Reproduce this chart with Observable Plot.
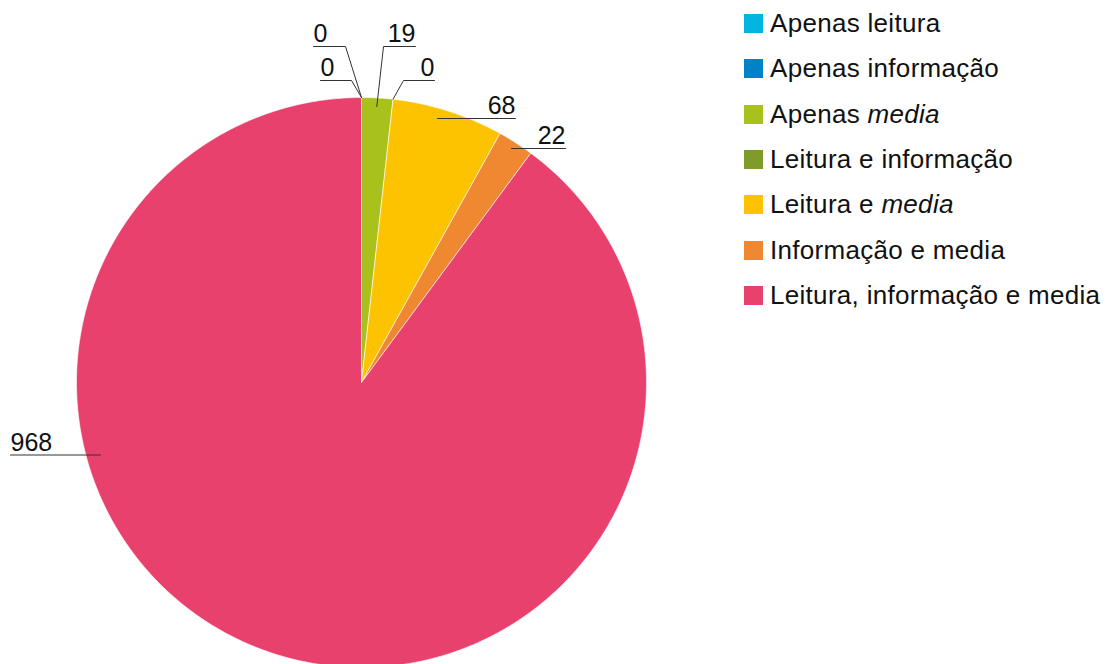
<!DOCTYPE html>
<html><head><meta charset="utf-8">
<script src="https://cdn.jsdelivr.net/npm/d3@7"></script>
<script src="https://cdn.jsdelivr.net/npm/@observablehq/plot@0.6"></script>
<style>
body{margin:0;background:#fff;font-family:"Liberation Sans",Arial,Helvetica,sans-serif;}
#wrap{position:relative;width:1113px;height:664px;overflow:hidden;}
#legend{position:absolute;left:744px;top:0;}
.row{position:absolute;left:0;display:flex;align-items:center;height:19px;white-space:nowrap;}
.sw{width:19px;height:19px;flex:none;}
.lab{margin-left:7px;font-size:26px;line-height:19px;color:#111;letter-spacing:0.3px;}
</style></head><body><div id="wrap"><div id="chart"></div><div id="legend"></div></div>
<script>
// ---- data ----
const categories = ["Apenas leitura","Apenas informação","Apenas media","Leitura e informação","Leitura e media","Informação e media","Leitura, informação e media"];
const values = [0, 0, 19, 0, 68, 22, 968];
const valueLabels = ["0","0","19","0","68","22","968"];
const colors = ["#00b5e2","#0082c8","#a9c11c","#7e9b2b","#fdc300","#ef8831","#e8416d"];
const legendItalic = [false, false, true, false, true, false, false];

// ---- layout (pixels relative to pie centre) ----
const W = 1113, H = 664, CX = 361, CY = 382, R = 285;
const labelLayout = [
  {align:"start", dy:-336, textX:-48,  elbowX:-16,  anchorR:1},
  {align:"start", dy:-302, textX:-41,  elbowX:-10,  anchorR:1},
  {align:"end",   dy:-336, textX:54,   elbowX:22,   anchorR:0.97},
  {align:"end",   dy:-302, textX:73,   elbowX:42,   anchorR:1},
  {align:"end",   dy:-264, textX:154,  elbowX:76,   anchorR:null},
  {align:"end",   dy:-234, textX:204,  elbowX:150,  anchorR:null},
  {align:"start", dy:72.5, textX:-351, elbowX:-261, anchorR:null}
];

const data = categories.map((c, i) => ({cat: c, value: values[i]}));
const arcs = d3.pie().sort(null).value(d => d.value)(data);
const polar = (a, r) => ({x: r * Math.sin(a), y: r * Math.cos(a)});

const slicePts = [];
arcs.forEach(a => {
  const span = a.endAngle - a.startAngle;
  if (span <= 0) return;
  const n = Math.max(2, Math.ceil(span / (Math.PI / 360)));
  slicePts.push({cat: a.data.cat, x: 0, y: 0});
  for (let k = 0; k <= n; k++) {
    const t = a.startAngle + span * k / n;
    slicePts.push({cat: a.data.cat, ...polar(t, 1)});
  }
  slicePts.push({cat: a.data.cat, x: 0, y: 0});
});

const leaders = [], texts = [];
arcs.forEach((a, i) => {
  const L = labelLayout[i];
  const y = -L.dy / R;
  leaders.push({id: i, x: L.textX / R, y});
  leaders.push({id: i, x: L.elbowX / R, y});
  if (L.anchorR) leaders.push({id: i, ...polar((a.startAngle + a.endAngle) / 2, L.anchorR)});
  texts.push({x: L.textX / R, y, text: valueLabels[i], align: L.align});
});

const chart = Plot.plot({
  width: W, height: H, margin: 0,
  x: {domain: [-CX / R, (W - CX) / R], axis: null},
  y: {domain: [-(H - CY) / R, CY / R], axis: null},
  color: {domain: categories, range: colors},
  style: {fontFamily: '"Liberation Sans", Arial, Helvetica, sans-serif', background: "white"},
  marks: [
    Plot.line(slicePts, {x: "x", y: "y", z: "cat", fill: "cat", stroke: "white", strokeWidth: 0.6, curve: "linear"}),
    Plot.line(leaders, {x: "x", y: "y", z: "id", stroke: "#333", strokeWidth: 1}),
    Plot.text(texts.filter(d => d.align === "start"), {x: "x", y: "y", text: "text", textAnchor: "start", lineAnchor: "bottom", dy: -4.5, fontSize: 25, fill: "#111"}),
    Plot.text(texts.filter(d => d.align === "end"), {x: "x", y: "y", text: "text", textAnchor: "end", lineAnchor: "bottom", dy: -4.5, fontSize: 25, fill: "#111"})
  ]
});
document.getElementById("chart").appendChild(chart);

// ---- legend ----
const legend = document.getElementById("legend");
categories.forEach((c, i) => {
  const row = document.createElement("div");
  row.className = "row";
  row.style.top = (14 + i * 45.33) + "px";
  const sw = document.createElement("div");
  sw.className = "sw";
  sw.style.background = colors[i];
  const lab = document.createElement("span");
  lab.className = "lab";
  if (legendItalic[i]) {
    const idx = c.lastIndexOf("media");
    lab.appendChild(document.createTextNode(c.slice(0, idx)));
    const em = document.createElement("i");
    em.textContent = c.slice(idx);
    lab.appendChild(em);
  } else {
    lab.textContent = c;
  }
  row.appendChild(sw);
  row.appendChild(lab);
  legend.appendChild(row);
});
</script>
</body></html>
